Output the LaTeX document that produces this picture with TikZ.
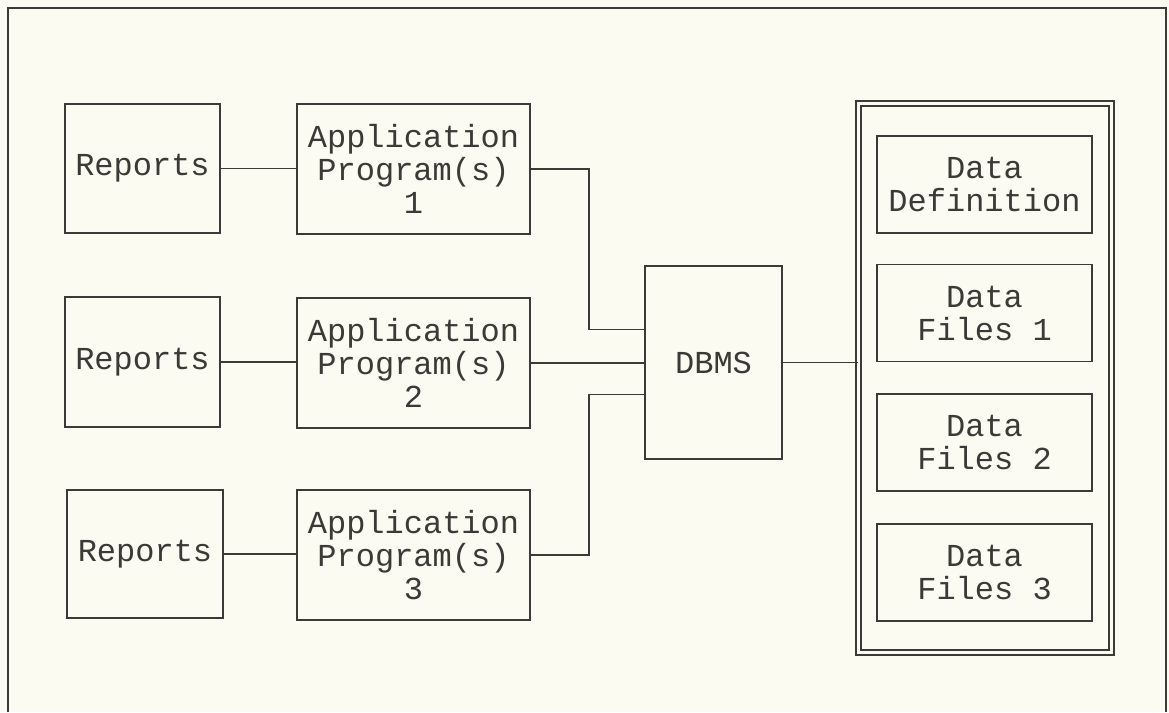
\documentclass[tikz,border=0pt]{standalone}
\usepackage{fontspec}
\newfontfamily\cour{Liberation Mono}
\definecolor{paper}{HTML}{FBFBF2}
\definecolor{ink}{HTML}{3A3A36}
\begin{document}
\begin{tikzpicture}[x=1pt,y=-1pt,
  box/.style={draw=ink, line width=1.8pt, align=center, inner sep=0pt, text=ink,
    font=\cour\fontsize{32}{33}\selectfont},
  wire/.style={draw=ink, line width=1.6pt}]
\fill[paper] (0,0) rectangle (1169,712);
\useasboundingbox (0,0) rectangle (1169,712);
% outer frame (bottom edge off the page)
\draw[ink, line width=1.8pt] (8,712) -- (8,8) -- (1166,8) -- (1166,712);
% reports
\node[box, minimum width=155pt, minimum height=129pt] (r1) at (142.5,168.5) {Reports};
\node[box, minimum width=155pt, minimum height=130pt] (r2) at (142.5,362) {Reports};
\node[box, minimum width=156pt, minimum height=128pt] (r3) at (145,554) {Reports};
% applications
\node[box, minimum width=233pt, minimum height=130pt] (a1) at (413.5,169) {Application\\Program(s)\\1};
\node[box, minimum width=233pt, minimum height=130pt] (a2) at (413.5,363) {Application\\Program(s)\\2};
\node[box, minimum width=233pt, minimum height=130pt] (a3) at (413.5,555) {Application\\Program(s)\\3};
% DBMS
\node[box, minimum width=137pt, minimum height=193pt] (db) at (713.5,362.5) {DBMS};
% data store double frame
\node[draw=ink, line width=1.5pt, double=paper, double distance=3.4pt, minimum width=253pt, minimum height=549pt, inner sep=0pt] (st) at (985,378) {};
\node[box, minimum width=215pt, minimum height=97pt] (d0) at (984.5,184.5) {Data\\Definition};
\node[box, minimum width=215pt, minimum height=97pt] (d1) at (984.5,313) {Data\\Files 1};
\node[box, minimum width=215pt, minimum height=97pt] (d2) at (984.5,442.5) {Data\\Files 2};
\node[box, minimum width=215pt, minimum height=97pt] (d3) at (984.5,572.5) {Data\\Files 3};
% connectors
\draw[wire] (r1.east) -- (a1.west |- r1.east);
\draw[wire] (r2.east) -- (a2.west |- r2.east);
\draw[wire] (r3.east) -- (a3.west |- r3.east);
\draw[wire] (a1.east) -- ++(58,0) |- ([yshift=33pt]db.west);
\draw[wire] (a2.east) -- (db.west |- a2.east);
\draw[wire] (a3.east) -- ++(58,0) |- ([yshift=-32pt]db.west);
\draw[wire] (db.east) -- (st.west |- db.east);
\end{tikzpicture}
\end{document}
